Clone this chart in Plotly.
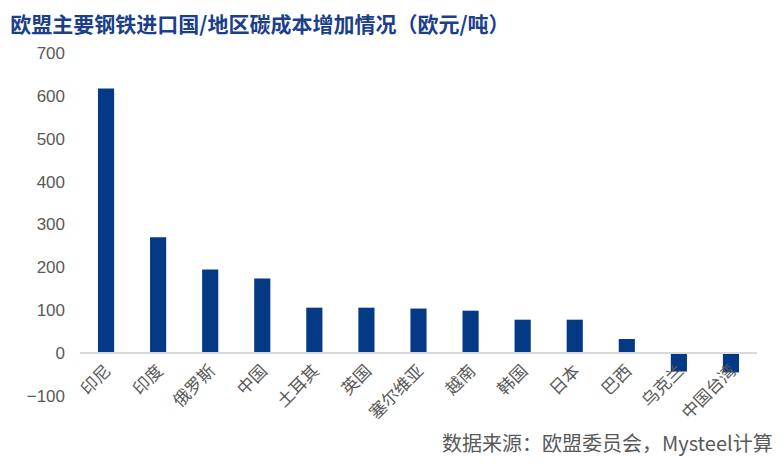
import plotly.graph_objects as go

# 国家/地区 及 碳成本增加（欧元/吨）
countries = ['印尼', '印度', '俄罗斯', '中国', '土耳其', '英国', '塞尔维亚',
             '越南', '韩国', '日本', '巴西', '乌克兰', '中国台湾']
cost_increase = [617, 270, 195, 174, 106, 106, 104, 99, 78, 78, 33, -43, -45]

y_ticks = [-100, 0, 100, 200, 300, 400, 500, 600, 700]

fig = go.Figure()
fig.add_trace(go.Bar(
    x=countries, y=cost_increase,
    marker_color='#043a85',
    marker_line_width=0,
))

# 页面 body 有 8px 边距, 所以边距都往回收一点
fig.update_layout(
    width=784, height=464,
    margin=dict(l=72, r=35, t=45, b=76, autoexpand=False),
    plot_bgcolor='white', paper_bgcolor='white',
    bargap=0.69,
    showlegend=False,
    font=dict(family='Liberation Sans, Arial, sans-serif', color='#595959'),
    title=dict(
        text='<b>欧盟主要钢铁进口国/地区碳成本增加情况（欧元/吨）</b>',
        x=0.003, xanchor='left', y=0.964, yanchor='middle',
        pad=dict(l=0, t=0, b=0, r=0),
        font=dict(family='Noto Sans CJK SC', size=21, color='#1b3f8b'),
    ),
)

# x 轴放在 0 的位置
fig.update_xaxes(
    anchor='free', position=0.125, automargin=False,
    showline=True, linecolor='#d9d9d9', linewidth=2,
    showgrid=False, ticks='', tickangle=-45,
    tickfont=dict(family='Noto Sans CJK SC', size=17, color='#595959'),
)
fig.update_yaxes(
    range=[-100, 700], tickvals=y_ticks, domain=[0, 1], automargin=False,
    showgrid=False, zeroline=False, showline=False, ticklabelstandoff=14,
    tickfont=dict(size=17, color='#595959'),
)

fig.add_annotation(
    text='数据来源：欧盟委员会，Mysteel计算',
    xref='paper', yref='paper', x=1.027, y=-0.137,
    xanchor='right', yanchor='middle', showarrow=False,
    font=dict(family='Noto Sans CJK SC', size=20, color='#595959'),
)

fig.write_html('out.html')
